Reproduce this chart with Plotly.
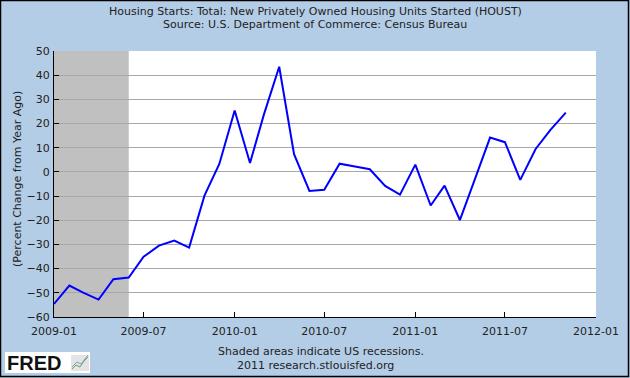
import plotly.graph_objects as go

dates = ["2009-01-01","2009-02-01","2009-03-01","2009-04-01","2009-05-01","2009-06-01",
         "2009-07-01","2009-08-01","2009-09-01","2009-10-01","2009-11-01","2009-12-01",
         "2010-01-01","2010-02-01","2010-03-01","2010-04-01","2010-05-01","2010-06-01",
         "2010-07-01","2010-08-01","2010-09-01","2010-10-01","2010-11-01","2010-12-01",
         "2011-01-01","2011-02-01","2011-03-01","2011-04-01","2011-05-01","2011-06-01",
         "2011-07-01","2011-08-01","2011-09-01","2011-10-01","2011-11-01"]
values = [-54.6,-47.0,-49.9,-52.8,-44.4,-43.7,
          -35.1,-30.5,-28.4,-31.3,-9.8,3.3,
          25.4,3.7,23.7,43.5,7.3,-7.9,
          -7.4,3.4,2.2,1.1,-5.8,-9.4,
          3.0,-13.9,-5.7,-19.9,-3.2,14.2,
          12.3,-3.3,9.5,17.4,24.5]
recession_start = "2009-01-01"
recession_end = "2009-06-01"
x_ticks = ["2009-01-01","2009-07-01","2010-01-01","2010-07-01","2011-01-01","2011-07-01","2012-01-01"]
x_tick_labels = ["2009-01","2009-07","2010-01","2010-07","2011-01","2011-07","2012-01"]
y_ticks = [50,40,30,20,10,0,-10,-20,-30,-40,-50,-60]

W, H = 630, 378
L, R, T, B = 54, 34, 51, 61
pw, ph = W - L - R, H - T - B

def px(x):
    return (x - L) / pw

def py(y):
    return (T + ph - y) / ph

fig = go.Figure()
fig.add_trace(go.Scatter(x=dates, y=values, mode="lines",
                         line=dict(color="#0000ff", width=2), hoverinfo="skip"))

fig.add_shape(type="rect", xref="x", yref="paper", x0=recession_start, x1=recession_end,
              y0=0, y1=1, fillcolor="#c0c0c0", line=dict(width=0), layer="below")
# outer border
fig.add_shape(type="rect", xref="paper", yref="paper",
              x0=px(0.5), x1=px(628.5), y0=py(376.5), y1=py(0.5),
              line=dict(color="black", width=1.5), fillcolor="rgba(0,0,0,0)")
# FRED logo box
fig.add_shape(type="rect", xref="paper", yref="paper",
              x0=px(5), x1=px(90), y0=py(373), y1=py(352),
              line=dict(width=0), fillcolor="white")
fig.add_shape(type="rect", xref="paper", yref="paper",
              x0=px(71), x1=px(89), y0=py(371), y1=py(355),
              line=dict(width=0), fillcolor="#e4e4e4")
fig.add_shape(type="path", xref="paper", yref="paper",
              path=f"M {px(72)} {py(369)} L {px(76)} {py(365)} L {px(80)} {py(367)} L {px(84)} {py(361)} L {px(88)} {py(357)}",
              line=dict(color="#6aa84f", width=1))
fig.add_shape(type="path", xref="paper", yref="paper",
              path=f"M {px(72)} {py(367)} L {px(77)} {py(362)} L {px(81)} {py(364)} L {px(88)} {py(355)}",
              line=dict(color="#7f9fcf", width=1))

font = "DejaVu Sans"
tc = "#222"
fig.update_layout(
    width=W, height=H,
    margin=dict(l=L, r=R, t=T, b=B),
    paper_bgcolor="#b4cde6", plot_bgcolor="white",
    showlegend=False,
    font=dict(family=font, size=11, color=tc),
    xaxis=dict(range=["2009-01-01", "2012-01-01"], tickvals=x_ticks, ticktext=x_tick_labels,
               showgrid=False, showline=True, linecolor="black", linewidth=1,
               ticks="inside", ticklen=5, tickcolor="black", zeroline=False,
               automargin=False, ticklabelstandoff=4,
               tickfont=dict(family=font, size=11, color=tc)),
    yaxis=dict(range=[-60, 50], tickvals=y_ticks, showgrid=True, gridcolor="#a8a8a8",
               gridwidth=1, showline=True, linecolor="black", linewidth=1,
               ticks="inside", ticklen=5, tickcolor="black", zeroline=False,
               automargin=False, ticklabelstandoff=1,
               tickfont=dict(family=font, size=11, color=tc)),
    annotations=[
        dict(text="Housing Starts: Total: New Privately Owned Housing Units Started (HOUST)",
             xref="paper", yref="paper", x=px(315), y=py(12),
             showarrow=False, xanchor="center", yanchor="middle",
             font=dict(family=font, size=11, color=tc)),
        dict(text="Source: U.S. Department of Commerce: Census Bureau",
             xref="paper", yref="paper", x=px(315), y=py(25),
             showarrow=False, xanchor="center", yanchor="middle",
             font=dict(family=font, size=11, color=tc)),
        dict(text="(Percent Change from Year Ago)",
             xref="paper", yref="paper", x=px(17), y=py(179),
             showarrow=False, xanchor="center", yanchor="middle", textangle=-90,
             font=dict(family=font, size=11, color=tc)),
        dict(text="Shaded areas indicate US recessions.",
             xref="paper", yref="paper", x=px(321), y=py(351),
             showarrow=False, xanchor="center", yanchor="middle",
             font=dict(family=font, size=11, color=tc)),
        dict(text="2011 research.stlouisfed.org",
             xref="paper", yref="paper", x=px(315), y=py(365),
             showarrow=False, xanchor="center", yanchor="middle",
             font=dict(family=font, size=11, color=tc)),
        dict(text="<b>FRED</b>",
             xref="paper", yref="paper", x=px(5), y=py(363),
             showarrow=False, xanchor="left", yanchor="middle",
             font=dict(family="Liberation Sans", size=20, color="#111")),
    ],
)

fig.write_html("out.html", config={"displayModeBar": False},
               post_script="document.body.style.margin='0';document.body.style.overflow='hidden';")
